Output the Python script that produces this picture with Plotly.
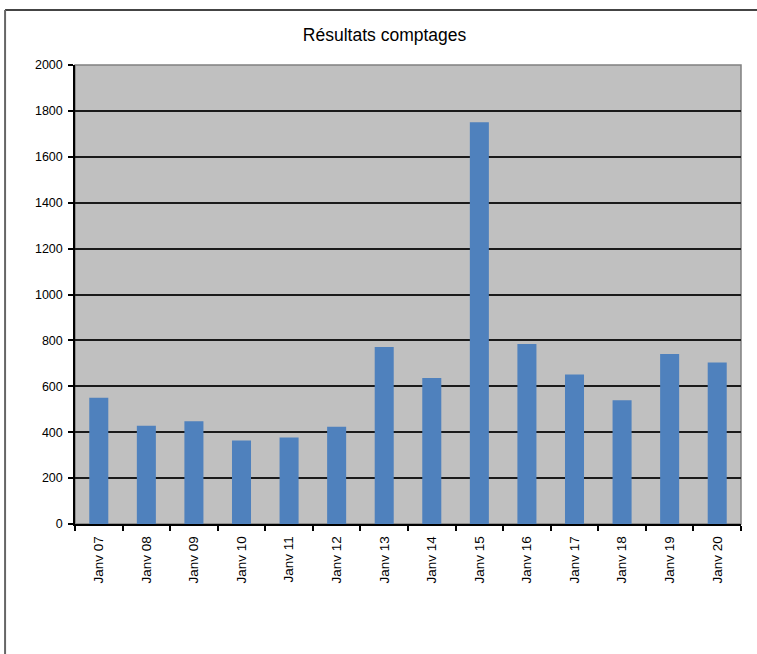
import plotly.graph_objects as go

categories = ["Janv 07", "Janv 08", "Janv 09", "Janv 10", "Janv 11", "Janv 12", "Janv 13",
              "Janv 14", "Janv 15", "Janv 16", "Janv 17", "Janv 18", "Janv 19", "Janv 20"]
values = [550, 428, 448, 364, 377, 424, 771, 636, 1751, 784, 651, 539, 741, 704]
y_ticks = [0, 200, 400, 600, 800, 1000, 1200, 1400, 1600, 1800, 2000]

font_family = "Liberation Sans, Arial, sans-serif"

fig = go.Figure(go.Bar(
    x=categories, y=values,
    marker=dict(color="#4F81BD", line=dict(width=0)),
))

fig.update_layout(
    width=757, height=654, autosize=False,
    margin=dict(l=75, r=16, t=65, b=130),
    paper_bgcolor="white", plot_bgcolor="#C0C0C0",
    bargap=0.6,
    showlegend=False,
    font=dict(family=font_family, size=12, color="black"),
    title=dict(text="Résultats comptages", x=0.508, xref="container", xanchor="center",
               y=1 - 35 / 654, yref="container", yanchor="middle",
               font=dict(family=font_family, size=17.5, color="black")),
    shapes=[
        dict(type="line", xref="paper", yref="paper", x0=-0.105, x1=1.05, y0=1.12, y1=1.12,
             line=dict(color="#444444", width=2)),
        dict(type="line", xref="paper", yref="paper", x0=-0.105, x1=-0.105, y0=1.12, y1=-0.30,
             line=dict(color="#666666", width=2)),
        dict(type="rect", xref="paper", yref="paper", x0=0, x1=1, y0=0, y1=1,
             line=dict(color="#808080", width=1.5), layer="below"),
    ],
)

fig.update_xaxes(
    type="category", tickangle=-90, tickson="boundaries",
    ticks="outside", ticklen=5, tickcolor="black", tickwidth=1.5,
    showline=True, linecolor="black", linewidth=1.5,
    showgrid=False, tickfont=dict(size=13.5, family=font_family),
    ticklabelstandoff=5,
)
fig.update_yaxes(
    range=[0, 2000], tickvals=y_ticks,
    ticks="outside", ticklen=5, tickcolor="black", tickwidth=1.5,
    showline=True, linecolor="black", linewidth=1.5,
    showgrid=True, gridcolor="#1a1a1a", gridwidth=1.5,
    zeroline=False, tickfont=dict(size=12.5, family=font_family),
    ticklabelstandoff=3,
)

fig.write_html("out.html")
